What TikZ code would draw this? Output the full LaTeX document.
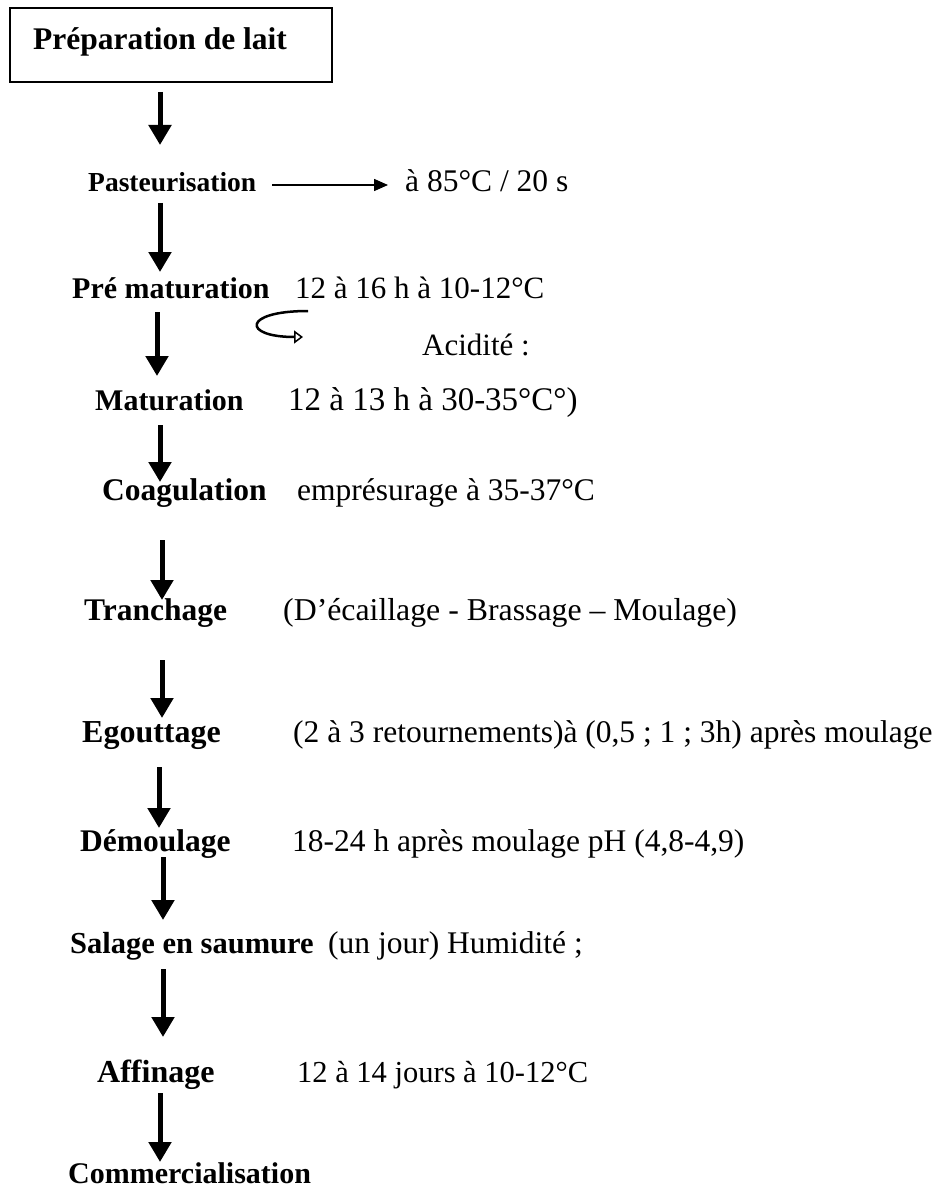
\documentclass[tikz,border=0pt]{standalone}
\usepackage{fontspec}
\setmainfont{Liberation Serif}
\usetikzlibrary{arrows.meta}
\begin{document}
\begin{tikzpicture}[x=1pt,y=-1pt,
  lbl/.style={anchor=base west,inner sep=0pt,font=\fontsize{#1}{36}\selectfont\bfseries},
  lbl/.default=31.5,
  info/.style={anchor=base west,inner sep=0pt,font=\fontsize{#1}{36}\selectfont},
  info/.default=31.5,
  bigarrow/.style={line width=5pt,-{Triangle[length=20pt,width=22pt]}},
  thinarrow/.style={line width=1.5pt,-{Triangle[length=14pt,width=12pt]}},
  looparrow/.style={line width=2.5pt,-{Triangle[open,length=9pt,width=13pt,line width=1.5pt]}}]
\useasboundingbox (0,0) rectangle (940,1190);
\node[draw,line width=1.5pt,minimum width=322pt,minimum height=74pt,inner sep=0pt] (box) at (171,45) {};
\node[lbl] (title) at (33,50) {Préparation de lait};
\node[lbl=27.5] (past) at (88,192) {Pasteurisation};
\node[info] (pastd) at (405,192) {à 85°C / 20 s};
\node[lbl=30] (premat) at (72,298) {Pré maturation};
\node[info=31] (prematd) at (295,298) {12 à 16 h à 10-12°C};
\node[info=31] (acid) at (422,355) {Acidité :};
\node[lbl=30] (mat) at (95,410) {Maturation};
\node[info=33] (matd) at (288,410) {12 à 13 h à 30-35°C°)};
\node[lbl] (coag) at (102,500) {Coagulation};
\node[info] (coagd) at (297,500) {emprésurage à 35-37°C};
\node[lbl] (tranch) at (84,620) {Tranchage};
\node[info=31.8] (tranchd) at (283,620) {(D’écaillage - Brassage – Moulage)};
\node[lbl=32] (egout) at (82,742) {Egouttage};
\node[info] (egoutd) at (293,742) {(2 à 3 retournements)à (0,5 ; 1 ; 3h) après moulage};
\node[lbl] (demoul) at (80,851) {Démoulage};
\node[info] (demould) at (292,851) {18-24 h après moulage pH (4,8-4,9)};
\node[lbl=30.5] (sal) at (70,953) {Salage en saumure};
\node[info] (sald) at (328,953) {(un jour) Humidité ;};
\node[lbl=32] (aff) at (97,1082) {Affinage};
\node[info=30.5] (affd) at (297,1082) {12 à 14 jours à 10-12°C};
\node[lbl=30] (comm) at (68,1183) {Commercialisation};
% arrow end points
\coordinate (a1s) at (160,92);   \coordinate (a1e) at (160,145);
\coordinate (a2s) at (160,203);  \coordinate (a2e) at (160,272);
\coordinate (a3s) at (157,312);  \coordinate (a3e) at (157,376);
\coordinate (a4s) at (160,425);  \coordinate (a4e) at (160,482);
\coordinate (a5s) at (162,540);  \coordinate (a5e) at (162,600);
\coordinate (a6s) at (162,660);  \coordinate (a6e) at (162,718);
\coordinate (a7s) at (159,767);  \coordinate (a7e) at (159,828);
\coordinate (a8s) at (163,857);  \coordinate (a8e) at (163,920);
\coordinate (a9s) at (163,969);  \coordinate (a9e) at (163,1037);
\coordinate (a10s) at (160,1093); \coordinate (a10e) at (160,1162);
\coordinate (ps) at (272,185); \coordinate (pe) at (388,185);
\coordinate (ls) at (308,311); \coordinate (le) at (303,337);
\draw[bigarrow] (a1s) -- (a1e);
\draw[bigarrow] (a2s) -- (a2e);
\draw[bigarrow] (a3s) -- (a3e);
\draw[bigarrow] (a4s) -- (a4e);
\draw[bigarrow] (a5s) -- (a5e);
\draw[bigarrow] (a6s) -- (a6e);
\draw[bigarrow] (a7s) -- (a7e);
\draw[bigarrow] (a8s) -- (a8e);
\draw[bigarrow] (a9s) -- (a9e);
\draw[bigarrow] (a10s) -- (a10e);
\draw[thinarrow] (ps) -- (pe);
\draw[looparrow] (ls) .. controls (242,311) and (242,337) .. (le);
\end{tikzpicture}
\end{document}
